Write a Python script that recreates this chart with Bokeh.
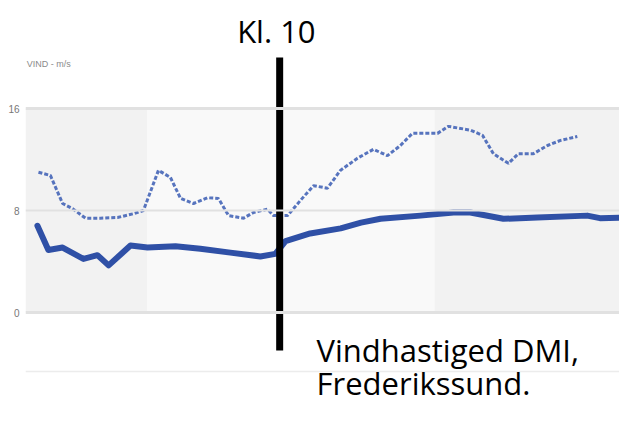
from bokeh.plotting import figure
from bokeh.models import FixedTicker, Range1d, Span
from bokeh.core.properties import value
from bokeh.embed import file_html
from bokeh.resources import INLINE

# ---- data (hours of day, wind in m/s) ----
mean_hours = [0.47, 0.9, 1.46, 2.28, 2.83, 3.27, 4.13, 4.8, 5.9, 6.88, 8.06, 9.24, 9.83,
              10.23, 11.2, 12.4, 13.2, 13.97, 15.54, 16.84, 17.5, 18.8, 20.14, 22.1, 22.6, 23.7]
mean_wind = [6.8, 4.9, 5.1, 4.2, 4.5, 3.7, 5.25, 5.1, 5.2, 5.0, 4.7, 4.4, 4.6,
             5.6, 6.2, 6.6, 7.05, 7.35, 7.6, 7.85, 7.85, 7.35, 7.45, 7.6, 7.4, 7.45]

gust_hours = [0.51, 0.98, 1.46, 1.85, 2.36, 2.95, 3.62, 4.25, 4.64, 5.23, 5.7, 6.1, 6.61,
              7.16, 7.59, 7.99, 8.58, 8.97, 9.52, 9.76, 10.31, 10.82, 11.33, 11.88, 12.39,
              13.06, 13.69, 14.24, 14.75, 15.22, 16.21, 16.64, 17.51, 17.98, 18.41, 19.0,
              19.39, 19.98, 20.54, 21.05, 21.71]
gust_wind = [11.0, 10.75, 8.55, 8.15, 7.4, 7.4, 7.45, 7.75, 8.0, 11.15, 10.6, 8.95, 8.55,
             9.0, 8.95, 7.6, 7.4, 7.85, 8.1, 7.6, 7.6, 8.8, 9.95, 9.75, 11.15,
             12.1, 12.8, 12.3, 13.1, 14.05, 14.05, 14.6, 14.3, 13.9, 12.45, 11.7,
             12.45, 12.45, 13.1, 13.5, 13.8]

band_left = [0.0, 4.78, 16.1]
band_right = [4.78, 16.1, 24.0]
band_colors = ["#f2f2f2", "#f9f9f9", "#f2f2f2"]

y_ticks = [0, 8, 16]
y_title = "VIND - m/s"
marker_hour = 10
marker_label = "Kl. 10"
caption_lines = ["Vindhastiged DMI,", "Frederikssund."]

# ---- figure ----
p = figure(width=619, height=405, output_backend="svg", toolbar_location=None,
           x_axis_type=None, min_border_left=25, min_border_right=0,
           min_border_top=0, min_border_bottom=0,
           x_range=Range1d(0, 23.37), y_range=Range1d(-7.29, 24.47))
p.outline_line_color = None
p.background_fill_color = "white"
p.border_fill_color = "white"
p.xgrid.grid_line_color = None
p.ygrid.grid_line_color = None

ax = p.yaxis[0]
ax.ticker = FixedTicker(ticks=y_ticks)
ax.axis_line_color = None
ax.major_tick_line_color = None
ax.minor_tick_line_color = None
ax.major_tick_in = 0
ax.major_tick_out = 0
ax.major_label_standoff = 6
ax.major_label_text_font_size = "10px"
ax.major_label_text_color = "#777777"
ax.major_label_text_font = "Liberation Sans"

# plot-area bands
p.quad(left=band_left, right=band_right, bottom=0, top=16,
       fill_color=band_colors, line_color=None)

# grid lines
for t, w in zip(y_ticks, [3, 2, 3]):
    p.add_layout(Span(location=t, dimension="width", line_color="#e1e1e1", line_width=w))
p.add_layout(Span(location=-4.63, dimension="width", line_color="#ececec",
                  line_width=1.5, level="underlay"))

# series
p.line(gust_hours, gust_wind, line_color="#3b5db4", line_width=3,
       line_dash="4 2", line_alpha=0.85)
p.line(mean_hours, mean_wind, line_color="#2f50a6", line_width=6,
       line_join="round", line_cap="round")

# y title
p.text(x=[0.05], y=[19.5], text=[y_title], text_font=value("Liberation Sans"),
       text_font_size="9px", text_color="#8a8a8a", text_baseline="alphabetic")

# marker line and labels
p.segment(x0=[marker_hour], y0=[20.0], x1=[marker_hour], y1=[-2.98],
          line_color="black", line_width=7)
p.text(x=[9.87], y=[22.1], text=[marker_label], text_font=value("Open Sans"),
       text_font_size="31px", text_color="black", text_align="center",
       text_baseline="alphabetic")
p.text(x=[11.45, 11.45], y=[-2.9, -5.55], text=caption_lines,
       text_font=value("Open Sans"), text_font_size="31px", text_color="black",
       text_align="left", text_baseline="alphabetic")

open("out.html", "w").write(file_html(p, INLINE))
